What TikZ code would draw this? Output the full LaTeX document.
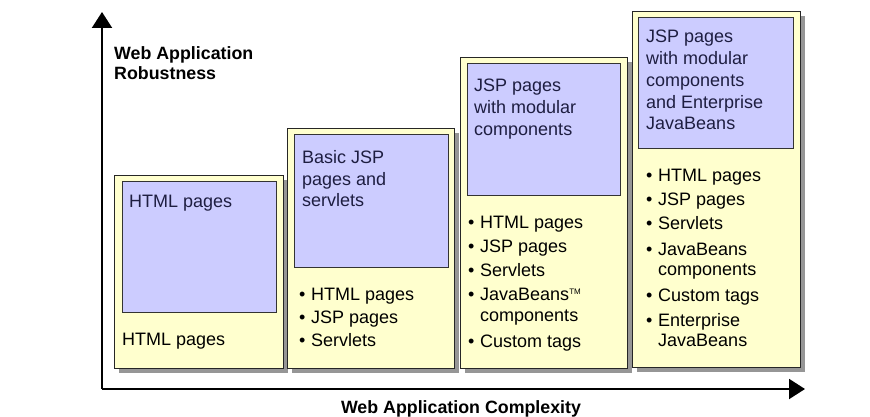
\documentclass[tikz,border=0pt]{standalone}
\usepackage{fontspec}
\setmainfont{Liberation Sans}
\usepackage{tikz}
\usetikzlibrary{arrows.meta, shadows}
\usepackage{xcolor}
\definecolor{stageyellow}{RGB}{255,255,206}
\definecolor{levelblue}{RGB}{204,204,255}
\definecolor{shadowgray}{RGB}{150,150,150}
\definecolor{titleink}{RGB}{30,30,65}

\tikzset{
  stage/.style={draw=black!85, line width=0.9pt, fill=stageyellow, anchor=north west, inner sep=0pt,
    drop shadow={shadow xshift=5pt, shadow yshift=-5pt, fill=shadowgray, opacity=1}},
  level/.style={draw=black!80, line width=0.9pt, fill=levelblue, anchor=north west, inner sep=0pt},
  title/.style={anchor=north west, inner sep=0pt, align=left, text=titleink, font=\fontsize{18}{21.8}\selectfont},
  items/.style={anchor=north west, inner sep=0pt, align=left, font=\fontsize{18}{20.5}\selectfont},
  axis/.style={line width=2pt, -{Triangle[length=16pt,width=20pt]}},
  axislabel/.style={inner sep=0pt, align=left, font=\bfseries\fontsize{17.8}{20}\selectfont}
}
\newcommand{\bul}{\makebox[12pt][l]{•}}
\newcommand{\cont}{\hspace*{12pt}}
\newcommand{\tm}{\raisebox{6pt}{\fontsize{8}{8}\selectfont TM}}

\begin{document}
\begin{tikzpicture}[x=1pt, y=-1pt]
\useasboundingbox (0,0) rectangle (870,417);

% axes
\coordinate (origin) at (102,389);
\coordinate (ytop) at (102,12);
\coordinate (xend) at (805,389);
\draw[axis] (origin) -- (ytop);
\draw[axis] (origin) -- (xend);
\node[axislabel, anchor=north west] (ylab) at (114,46) {Web Application\\Robustness};
\node[axislabel] (xlab) at (461,409) {Web Application Complexity};

% stage 1
\node[stage, minimum width=169pt, minimum height=193pt] (s1) at (114,175) {};
\node[level, minimum width=154pt, minimum height=131pt] (l1) at (122,181) {};
\node[title] (t1) at (129,195) {HTML pages};
\node[items] (i1) at (122,333) {HTML pages};

% stage 2
\node[stage, minimum width=167pt, minimum height=240pt] (s2) at (287,128) {};
\node[level, minimum width=154pt, minimum height=133pt] (l2) at (294,134) {};
\node[title] (t2) at (302,150) {Basic JSP\\pages and\\servlets};
\node[items] (i2) at (299,288) {\bul HTML pages\\[2.5pt]\bul JSP pages\\[2.5pt]\bul Servlets};

% stage 3
\node[stage, minimum width=167pt, minimum height=311pt] (s3) at (460,57) {};
\node[level, minimum width=153pt, minimum height=132pt] (l3) at (467,63) {};
\node[title] (t3) at (474,79) {JSP pages\\with modular\\components};
\node[items] (i3) at (468,216) {\bul HTML pages\\[3.5pt]\bul JSP pages\\[3.5pt]\bul Servlets\\[3.5pt]
  \bul JavaBeans\tm\\\cont components\\[5.5pt]\bul Custom tags};

% stage 4
\node[stage, minimum width=168pt, minimum height=356pt] (s4) at (632,11) {};
\node[level, minimum width=155pt, minimum height=131pt] (l4) at (638,17) {};
\node[title] (t4) at (646,30) {JSP pages\\with modular\\components\\and Enterprise\\JavaBeans};
\node[items] (i4) at (646,169) {\bul HTML pages\\[3.5pt]\bul JSP pages\\[3.5pt]\bul Servlets\\[5pt]
  \bul JavaBeans\\\cont components\\[5pt]\bul Custom tags\\[4.5pt]\bul Enterprise\\\cont JavaBeans};
\end{tikzpicture}
\end{document}
